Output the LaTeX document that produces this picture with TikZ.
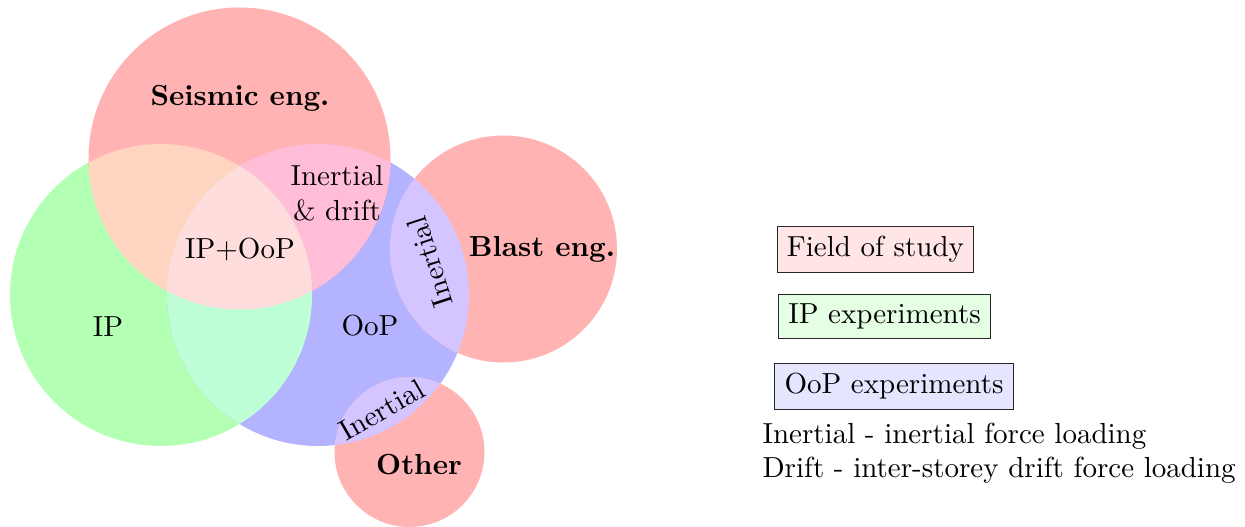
\documentclass[tikz,border=0pt]{standalone}
\usetikzlibrary{positioning}
\definecolor{cS}{HTML}{FFB3B3}
\definecolor{cIP}{HTML}{B3FFB3}
\definecolor{cO}{HTML}{B3B3FF}
\definecolor{cSIP}{HTML}{FFD4C0}
\definecolor{cSO}{HTML}{FFBDD8}
\definecolor{cSIPO}{HTML}{FFDDDC}
\definecolor{cIPO}{HTML}{BFFFD8}
\definecolor{cXO}{HTML}{D4C4FF}
\tikzset{
  lbl/.style={inner sep=0pt, font=\normalsize},
  blbl/.style={inner sep=0pt, font=\bfseries},
  legbox/.style={draw=black!85, line width=0.4pt, inner sep=3.33pt},
}
\begin{document}
\begin{tikzpicture}[x=0.3448pt, y=0.3448pt]
\useasboundingbox (0,0) rectangle (1245,527);
\coordinate (S) at (239.5,368.5);
\coordinate (IP) at (161,232);
\coordinate (O) at (318,232);
\coordinate (B) at (503.5,278);
\coordinate (Ot) at (409.5,75);
\def\R{151}
% base circles
\fill[cIP] (IP) circle[radius=\R];
\fill[cO] (O) circle[radius=\R];
\fill[cS] (S) circle[radius=\R];
\fill[cS] (B) circle[radius=113.5];
\fill[cS] (Ot) circle[radius=75];
% intersections
\begin{scope}\clip (S) circle[radius=\R]; \fill[cSIP] (IP) circle[radius=\R];\end{scope}
\begin{scope}\clip (S) circle[radius=\R]; \fill[cSO] (O) circle[radius=\R];\end{scope}
\begin{scope}\clip (IP) circle[radius=\R]; \fill[cIPO] (O) circle[radius=\R];\end{scope}
\begin{scope}\clip (S) circle[radius=\R]; \clip (IP) circle[radius=\R]; \fill[cSIPO] (O) circle[radius=\R];\end{scope}
\begin{scope}\clip (B) circle[radius=113.5]; \fill[cXO] (O) circle[radius=\R];\end{scope}
\begin{scope}\clip (Ot) circle[radius=75]; \fill[cXO] (O) circle[radius=\R];\end{scope}
% labels
\node[blbl] (seis) at (240,429) {Seismic eng.};
\node[lbl, align=center] (id) at (337,334) {Inertial\\ \& drift};
\node[lbl] (ipoop) at (240,278) {IP+OoP};
\node[lbl] (ip) at (108,200) {IP};
\node[lbl] (oop) at (370,201) {OoP};
\node[blbl] (blast) at (542,278) {Blast eng.};
\node[blbl] (other) at (419,62) {Other};
\node[lbl, rotate=108] (inb) at (430,265) {Inertial};
\node[lbl, rotate=30] (ino) at (382,117) {Inertial};
% legend
\node[legbox, fill=red!10] (l1) at (875.5,277.5) {Field of study};
\node[legbox, fill=green!10] (l2) at (884.5,210.5) {IP experiments};
\node[legbox, fill=blue!10] (l3) at (894,140.5) {OoP experiments};
\node[lbl, anchor=west, align=left] (notes) at (762,73.8) {Inertial - inertial force loading\\ Drift - inter-storey drift force loading};
\end{tikzpicture}
\end{document}
